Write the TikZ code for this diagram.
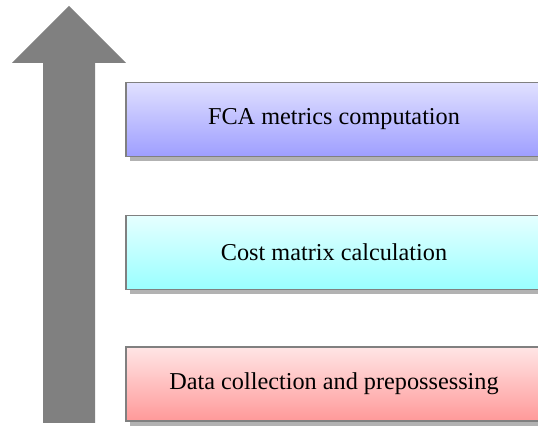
\documentclass[tikz,border=0pt]{standalone}
\usepackage{fontspec}
\setmainfont{Liberation Serif}
\usetikzlibrary{shadows}
\begin{document}
\begin{tikzpicture}[
    stage/.style={draw=gray, line width=0.6pt, minimum width=8.32cm, minimum height=1.48cm,
      font=\fontsize{13.8}{16}\selectfont,
      drop shadow={shadow xshift=0.08cm, shadow yshift=-0.1cm, fill=gray!60, opacity=1}}]
  % Rahmen
  \useasboundingbox (0,0) rectangle (10.76,8.54);
  \clip (0,0) rectangle (10.76,8.54);
  % Pfeil
  \fill [gray] (0.86,0.08) -- (0.86,7.28) -- (0.24,7.28) -- (1.38,8.42)
    -- (2.52,7.28) -- (1.90,7.28) -- (1.90,0.08) -- cycle;
  % Stufen
  \node [stage, top color=red!10, bottom color=red!40] (collect) at (6.68,0.86)
    {Data collection and prepossessing};
  \node [stage, top color=cyan!10, bottom color=cyan!40] (cost) at (6.68,3.49)
    {Cost matrix calculation};
  \node [stage, top color=blue!12, bottom color=blue!38] (fca) at (6.68,6.15)
    {FCA metrics computation};
\end{tikzpicture}
\end{document}
